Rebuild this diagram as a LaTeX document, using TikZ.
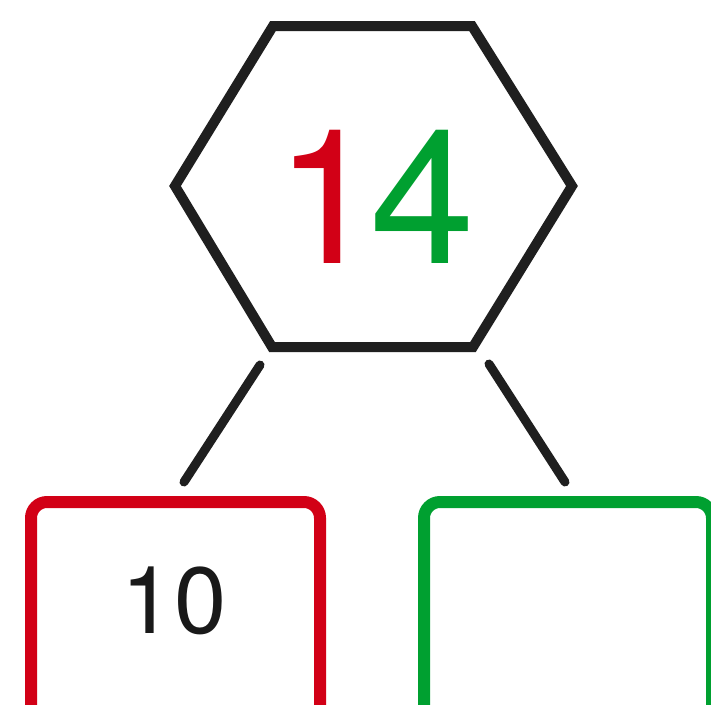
\documentclass[tikz,border=0pt]{standalone}
\usepackage{fontspec}
\setmainfont{TeX Gyre Heros}
\definecolor{myred}{RGB}{210,0,22}
\definecolor{mygreen}{RGB}{0,160,48}
\begin{document}
\begin{tikzpicture}[x=1pt,y=-1pt,
  hexline/.style={line width=10pt, line join=miter, draw=black!88},
  conn/.style={line width=9pt, line cap=round, draw=black!88},
  numbox/.style={rectangle, rounded corners=16pt, line width=12pt, inner sep=0pt, anchor=north west},
  bignum/.style={font=\fontsize{188}{188}\selectfont, inner sep=0pt},
  smallnum/.style={font=\fontsize{94}{94}\selectfont, inner sep=0pt, text=black!90}]
\clip (0,0) rectangle (711,704);
\fill[white] (0,0) rectangle (711,704);
% hexagon
\draw[hexline] (273,26) -- (472,26) -- (572,186) -- (473,347) -- (272,347) -- (175,186) -- cycle;
\node[bignum] (total) at (375,197) {\textcolor{myred}{1}\kern-10pt\textcolor{mygreen}{4}};
% boxes
\node[numbox, draw=myred, minimum width=289pt, minimum height=260pt] (left) at (25,496) {};
\node[numbox, draw=mygreen, minimum width=288pt, minimum height=260pt] (right) at (418,496) {};
\node[smallnum] (ten) at (174,601) {10};
% connectors
\coordinate (l1) at (260,365);
\coordinate (l2) at (184,482);
\coordinate (r1) at (489,364);
\coordinate (r2) at (565,482);
\draw[conn] (l1) -- (l2);
\draw[conn] (r1) -- (r2);
\end{tikzpicture}
\end{document}
